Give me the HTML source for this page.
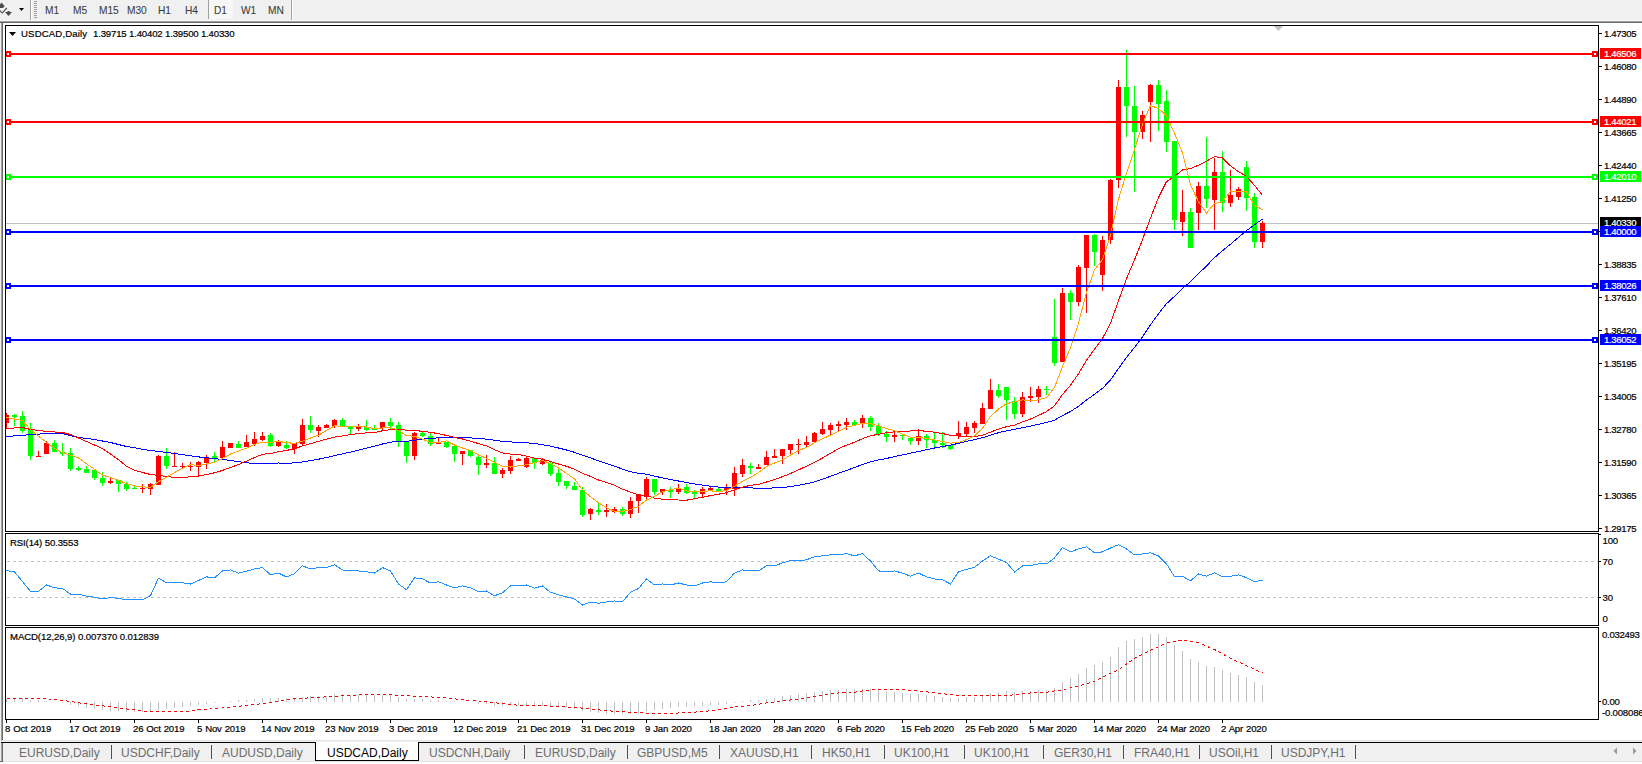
<!DOCTYPE html>
<html><head><meta charset="utf-8"><style>
html,body{margin:0;padding:0;background:#f0f0f0;overflow:hidden;}
body{width:1642px;height:764px;}
svg{display:block;font-family:"Liberation Sans", sans-serif;}
</style></head><body>
<svg width="1642" height="764" viewBox="0 0 1642 764">
<rect x="0" y="0" width="1642" height="764" fill="#f0f0f0"/>
<rect x="0" y="20" width="1642" height="1" fill="#f9f9f9"/>
<rect x="0" y="21" width="1642" height="1" fill="#a0a0a0"/>
<rect x="0" y="22" width="1642" height="1" fill="#696969"/>
<path d="M0,4.5 L1.5,2.5 L5,6.5 L3.5,6.5 L3.5,8 L0,8 Z" fill="#4a4a4a"/>
<path d="M0,10 L2.2,12.2 L6.5,7.5 L7.2,8.5 L2.2,13.8 L0,11.5 Z" fill="#4a4a4a"/>
<path d="M7.5,11 L9.5,11 L9.5,12 L12,12 L8.5,16 L5,12 L7.5,12 Z" fill="#4a4a4a"/>
<path d="M19,8 L24,8 L21.5,11 Z" fill="#000"/>
<rect x="30" y="0" width="1" height="20" fill="#a0a0a0"/><rect x="31" y="0" width="1" height="20" fill="#ffffff"/>
<rect x="34" y="1" width="3" height="1" fill="#a0a0a0"/>
<rect x="34" y="3" width="3" height="1" fill="#a0a0a0"/>
<rect x="34" y="5" width="3" height="1" fill="#a0a0a0"/>
<rect x="34" y="7" width="3" height="1" fill="#a0a0a0"/>
<rect x="34" y="9" width="3" height="1" fill="#a0a0a0"/>
<rect x="34" y="11" width="3" height="1" fill="#a0a0a0"/>
<rect x="34" y="13" width="3" height="1" fill="#a0a0a0"/>
<rect x="34" y="15" width="3" height="1" fill="#a0a0a0"/>
<rect x="34" y="17" width="3" height="1" fill="#a0a0a0"/>
<rect x="208" y="0" width="25" height="19" fill="#f7f7f7"/>
<rect x="208" y="0" width="1" height="19" fill="#a0a0a0"/>
<rect x="291" y="0" width="1" height="20" fill="#a0a0a0"/><rect x="292" y="0" width="1" height="20" fill="#ffffff"/>
<text x="45" y="13.6" font-size="10.2" fill="#3a3a3a" text-anchor="start" font-weight="normal" letter-spacing="-0.1" stroke="#3a3a3a" stroke-width="0.06" >M1</text>
<text x="73" y="13.6" font-size="10.2" fill="#3a3a3a" text-anchor="start" font-weight="normal" letter-spacing="-0.1" stroke="#3a3a3a" stroke-width="0.06" >M5</text>
<text x="99" y="13.6" font-size="10.2" fill="#3a3a3a" text-anchor="start" font-weight="normal" letter-spacing="-0.1" stroke="#3a3a3a" stroke-width="0.06" >M15</text>
<text x="127" y="13.6" font-size="10.2" fill="#3a3a3a" text-anchor="start" font-weight="normal" letter-spacing="-0.1" stroke="#3a3a3a" stroke-width="0.06" >M30</text>
<text x="158" y="13.6" font-size="10.2" fill="#3a3a3a" text-anchor="start" font-weight="normal" letter-spacing="-0.1" stroke="#3a3a3a" stroke-width="0.06" >H1</text>
<text x="185" y="13.6" font-size="10.2" fill="#3a3a3a" text-anchor="start" font-weight="normal" letter-spacing="-0.1" stroke="#3a3a3a" stroke-width="0.06" >H4</text>
<text x="214" y="13.6" font-size="10.2" fill="#3a3a3a" text-anchor="start" font-weight="normal" letter-spacing="-0.1" stroke="#3a3a3a" stroke-width="0.06" >D1</text>
<text x="241" y="13.6" font-size="10.2" fill="#3a3a3a" text-anchor="start" font-weight="normal" letter-spacing="-0.1" stroke="#3a3a3a" stroke-width="0.06" >W1</text>
<text x="268" y="13.6" font-size="10.2" fill="#3a3a3a" text-anchor="start" font-weight="normal" letter-spacing="-0.1" stroke="#3a3a3a" stroke-width="0.06" >MN</text>
<rect x="1" y="23" width="1" height="718" fill="#a0a0a0"/>
<rect x="2" y="23" width="1" height="717" fill="#696969"/>
<rect x="3" y="23" width="1639" height="717" fill="#ffffff"/>
<rect x="2" y="740" width="1640" height="1" fill="#e3e3e3"/>
<defs><clipPath id="cm"><rect x="6" y="26" width="1592" height="505"/></clipPath><clipPath id="cr"><rect x="6" y="534" width="1592" height="91"/></clipPath><clipPath id="cd"><rect x="6" y="628" width="1592" height="91"/></clipPath></defs>
<rect x="6" y="223" width="1592" height="1" fill="#c0c0c0"/>
<g clip-path="url(#cm)" shape-rendering="crispEdges">
<rect fill="#ff0000" x="6" y="413" width="1" height="15"/>
<rect fill="#ff0000" x="4" y="415" width="5" height="8"/>
<rect fill="#00ff00" x="14" y="414" width="1" height="12"/>
<rect fill="#00ff00" x="12" y="415" width="5" height="2"/>
<rect fill="#00ff00" x="22" y="411" width="1" height="22"/>
<rect fill="#00ff00" x="20" y="416" width="5" height="15"/>
<rect fill="#00ff00" x="30" y="423" width="1" height="37"/>
<rect fill="#00ff00" x="28" y="430" width="5" height="26"/>
<rect fill="#ff0000" x="38" y="451" width="1" height="5"/>
<rect fill="#ff0000" x="36" y="456" width="5" height="1"/>
<rect fill="#ff0000" x="46" y="441" width="1" height="13"/>
<rect fill="#ff0000" x="44" y="443" width="5" height="11"/>
<rect fill="#00ff00" x="54" y="440" width="1" height="12"/>
<rect fill="#00ff00" x="52" y="443" width="5" height="9"/>
<rect fill="#00ff00" x="62" y="443" width="1" height="13"/>
<rect fill="#00ff00" x="60" y="452" width="5" height="2"/>
<rect fill="#00ff00" x="70" y="448" width="1" height="23"/>
<rect fill="#00ff00" x="68" y="453" width="5" height="16"/>
<rect fill="#00ff00" x="78" y="466" width="1" height="5"/>
<rect fill="#00ff00" x="76" y="468" width="5" height="2"/>
<rect fill="#00ff00" x="86" y="466" width="1" height="7"/>
<rect fill="#00ff00" x="84" y="469" width="5" height="4"/>
<rect fill="#00ff00" x="94" y="469" width="1" height="11"/>
<rect fill="#00ff00" x="92" y="470" width="5" height="8"/>
<rect fill="#00ff00" x="102" y="472" width="1" height="14"/>
<rect fill="#00ff00" x="100" y="478" width="5" height="5"/>
<rect fill="#ff0000" x="110" y="477" width="1" height="7"/>
<rect fill="#ff0000" x="108" y="481" width="5" height="2"/>
<rect fill="#00ff00" x="118" y="480" width="1" height="12"/>
<rect fill="#00ff00" x="116" y="480" width="5" height="4"/>
<rect fill="#00ff00" x="126" y="482" width="1" height="9"/>
<rect fill="#00ff00" x="124" y="484" width="5" height="5"/>
<rect fill="#00ff00" x="134" y="486" width="1" height="3"/>
<rect fill="#00ff00" x="132" y="488" width="5" height="1"/>
<rect fill="#ff0000" x="142" y="484" width="1" height="9"/>
<rect fill="#ff0000" x="140" y="488" width="5" height="1"/>
<rect fill="#ff0000" x="150" y="483" width="1" height="12"/>
<rect fill="#ff0000" x="148" y="484" width="5" height="5"/>
<rect fill="#ff0000" x="158" y="455" width="1" height="30"/>
<rect fill="#ff0000" x="156" y="456" width="5" height="29"/>
<rect fill="#00ff00" x="166" y="448" width="1" height="21"/>
<rect fill="#00ff00" x="164" y="456" width="5" height="10"/>
<rect fill="#ff0000" x="174" y="452" width="1" height="15"/>
<rect fill="#ff0000" x="172" y="466" width="5" height="1"/>
<rect fill="#ff0000" x="182" y="463" width="1" height="6"/>
<rect fill="#ff0000" x="180" y="466" width="5" height="1"/>
<rect fill="#ff0000" x="190" y="462" width="1" height="9"/>
<rect fill="#ff0000" x="188" y="466" width="5" height="1"/>
<rect fill="#ff0000" x="198" y="461" width="1" height="15"/>
<rect fill="#ff0000" x="196" y="462" width="5" height="5"/>
<rect fill="#ff0000" x="206" y="455" width="1" height="14"/>
<rect fill="#ff0000" x="204" y="457" width="5" height="6"/>
<rect fill="#00ff00" x="214" y="452" width="1" height="10"/>
<rect fill="#00ff00" x="212" y="456" width="5" height="2"/>
<rect fill="#ff0000" x="222" y="441" width="1" height="17"/>
<rect fill="#ff0000" x="220" y="447" width="5" height="11"/>
<rect fill="#ff0000" x="230" y="443" width="1" height="5"/>
<rect fill="#ff0000" x="228" y="443" width="5" height="5"/>
<rect fill="#00ff00" x="238" y="441" width="1" height="7"/>
<rect fill="#00ff00" x="236" y="444" width="5" height="4"/>
<rect fill="#ff0000" x="246" y="435" width="1" height="12"/>
<rect fill="#ff0000" x="244" y="442" width="5" height="5"/>
<rect fill="#ff0000" x="254" y="432" width="1" height="14"/>
<rect fill="#ff0000" x="252" y="439" width="5" height="5"/>
<rect fill="#ff0000" x="262" y="432" width="1" height="9"/>
<rect fill="#ff0000" x="260" y="436" width="5" height="4"/>
<rect fill="#00ff00" x="270" y="433" width="1" height="14"/>
<rect fill="#00ff00" x="268" y="435" width="5" height="11"/>
<rect fill="#ff0000" x="278" y="440" width="1" height="7"/>
<rect fill="#ff0000" x="276" y="442" width="5" height="4"/>
<rect fill="#00ff00" x="286" y="441" width="1" height="8"/>
<rect fill="#00ff00" x="284" y="445" width="5" height="3"/>
<rect fill="#ff0000" x="294" y="443" width="1" height="11"/>
<rect fill="#ff0000" x="292" y="443" width="5" height="6"/>
<rect fill="#ff0000" x="302" y="419" width="1" height="26"/>
<rect fill="#ff0000" x="300" y="425" width="5" height="19"/>
<rect fill="#00ff00" x="310" y="416" width="1" height="17"/>
<rect fill="#00ff00" x="308" y="425" width="5" height="5"/>
<rect fill="#ff0000" x="318" y="425" width="1" height="12"/>
<rect fill="#ff0000" x="316" y="427" width="5" height="4"/>
<rect fill="#ff0000" x="326" y="424" width="1" height="4"/>
<rect fill="#ff0000" x="324" y="425" width="5" height="3"/>
<rect fill="#ff0000" x="334" y="419" width="1" height="9"/>
<rect fill="#ff0000" x="332" y="420" width="5" height="6"/>
<rect fill="#00ff00" x="342" y="418" width="1" height="9"/>
<rect fill="#00ff00" x="340" y="420" width="5" height="7"/>
<rect fill="#00ff00" x="350" y="426" width="1" height="8"/>
<rect fill="#00ff00" x="348" y="426" width="5" height="3"/>
<rect fill="#ff0000" x="358" y="424" width="1" height="7"/>
<rect fill="#ff0000" x="356" y="427" width="5" height="2"/>
<rect fill="#00ff00" x="366" y="420" width="1" height="11"/>
<rect fill="#00ff00" x="364" y="427" width="5" height="3"/>
<rect fill="#00ff00" x="374" y="425" width="1" height="5"/>
<rect fill="#00ff00" x="372" y="428" width="5" height="2"/>
<rect fill="#ff0000" x="382" y="422" width="1" height="8"/>
<rect fill="#ff0000" x="380" y="422" width="5" height="6"/>
<rect fill="#00ff00" x="390" y="418" width="1" height="11"/>
<rect fill="#00ff00" x="388" y="422" width="5" height="4"/>
<rect fill="#00ff00" x="398" y="422" width="1" height="25"/>
<rect fill="#00ff00" x="396" y="425" width="5" height="17"/>
<rect fill="#00ff00" x="406" y="442" width="1" height="21"/>
<rect fill="#00ff00" x="404" y="442" width="5" height="14"/>
<rect fill="#ff0000" x="414" y="432" width="1" height="28"/>
<rect fill="#ff0000" x="412" y="433" width="5" height="23"/>
<rect fill="#00ff00" x="422" y="432" width="1" height="5"/>
<rect fill="#00ff00" x="420" y="433" width="5" height="3"/>
<rect fill="#00ff00" x="430" y="433" width="1" height="13"/>
<rect fill="#00ff00" x="428" y="436" width="5" height="8"/>
<rect fill="#ff0000" x="438" y="438" width="1" height="6"/>
<rect fill="#ff0000" x="436" y="442" width="5" height="2"/>
<rect fill="#00ff00" x="446" y="442" width="1" height="6"/>
<rect fill="#00ff00" x="444" y="442" width="5" height="5"/>
<rect fill="#00ff00" x="454" y="446" width="1" height="16"/>
<rect fill="#00ff00" x="452" y="446" width="5" height="8"/>
<rect fill="#ff0000" x="462" y="451" width="1" height="14"/>
<rect fill="#ff0000" x="460" y="451" width="5" height="3"/>
<rect fill="#00ff00" x="470" y="450" width="1" height="7"/>
<rect fill="#00ff00" x="468" y="450" width="5" height="6"/>
<rect fill="#00ff00" x="478" y="455" width="1" height="20"/>
<rect fill="#00ff00" x="476" y="457" width="5" height="8"/>
<rect fill="#ff0000" x="486" y="455" width="1" height="13"/>
<rect fill="#ff0000" x="484" y="463" width="5" height="2"/>
<rect fill="#00ff00" x="494" y="457" width="1" height="17"/>
<rect fill="#00ff00" x="492" y="463" width="5" height="11"/>
<rect fill="#ff0000" x="502" y="468" width="1" height="10"/>
<rect fill="#ff0000" x="500" y="470" width="5" height="4"/>
<rect fill="#ff0000" x="510" y="456" width="1" height="18"/>
<rect fill="#ff0000" x="508" y="460" width="5" height="11"/>
<rect fill="#ff0000" x="518" y="458" width="1" height="3"/>
<rect fill="#ff0000" x="516" y="459" width="5" height="2"/>
<rect fill="#ff0000" x="526" y="457" width="1" height="11"/>
<rect fill="#ff0000" x="524" y="458" width="5" height="9"/>
<rect fill="#00ff00" x="534" y="458" width="1" height="11"/>
<rect fill="#00ff00" x="532" y="458" width="5" height="5"/>
<rect fill="#ff0000" x="542" y="458" width="1" height="7"/>
<rect fill="#ff0000" x="540" y="460" width="5" height="4"/>
<rect fill="#00ff00" x="550" y="461" width="1" height="15"/>
<rect fill="#00ff00" x="548" y="463" width="5" height="11"/>
<rect fill="#00ff00" x="558" y="469" width="1" height="17"/>
<rect fill="#00ff00" x="556" y="473" width="5" height="9"/>
<rect fill="#00ff00" x="566" y="481" width="1" height="8"/>
<rect fill="#00ff00" x="564" y="481" width="5" height="5"/>
<rect fill="#00ff00" x="574" y="482" width="1" height="8"/>
<rect fill="#00ff00" x="572" y="486" width="5" height="4"/>
<rect fill="#00ff00" x="582" y="487" width="1" height="30"/>
<rect fill="#00ff00" x="580" y="490" width="5" height="25"/>
<rect fill="#ff0000" x="590" y="508" width="1" height="12"/>
<rect fill="#ff0000" x="588" y="509" width="5" height="5"/>
<rect fill="#00ff00" x="598" y="503" width="1" height="12"/>
<rect fill="#00ff00" x="596" y="510" width="5" height="2"/>
<rect fill="#ff0000" x="606" y="504" width="1" height="13"/>
<rect fill="#ff0000" x="604" y="510" width="5" height="2"/>
<rect fill="#ff0000" x="614" y="507" width="1" height="6"/>
<rect fill="#ff0000" x="612" y="509" width="5" height="3"/>
<rect fill="#00ff00" x="622" y="507" width="1" height="9"/>
<rect fill="#00ff00" x="620" y="509" width="5" height="5"/>
<rect fill="#ff0000" x="630" y="497" width="1" height="21"/>
<rect fill="#ff0000" x="628" y="501" width="5" height="13"/>
<rect fill="#ff0000" x="638" y="494" width="1" height="19"/>
<rect fill="#ff0000" x="636" y="494" width="5" height="7"/>
<rect fill="#ff0000" x="646" y="477" width="1" height="22"/>
<rect fill="#ff0000" x="644" y="479" width="5" height="18"/>
<rect fill="#00ff00" x="654" y="479" width="1" height="16"/>
<rect fill="#00ff00" x="652" y="479" width="5" height="13"/>
<rect fill="#ff0000" x="662" y="489" width="1" height="6"/>
<rect fill="#ff0000" x="660" y="489" width="5" height="3"/>
<rect fill="#00ff00" x="670" y="487" width="1" height="11"/>
<rect fill="#00ff00" x="668" y="490" width="5" height="2"/>
<rect fill="#ff0000" x="678" y="484" width="1" height="10"/>
<rect fill="#ff0000" x="676" y="488" width="5" height="4"/>
<rect fill="#00ff00" x="686" y="484" width="1" height="10"/>
<rect fill="#00ff00" x="684" y="487" width="5" height="6"/>
<rect fill="#00ff00" x="694" y="490" width="1" height="8"/>
<rect fill="#00ff00" x="692" y="492" width="5" height="2"/>
<rect fill="#ff0000" x="702" y="487" width="1" height="10"/>
<rect fill="#ff0000" x="700" y="489" width="5" height="5"/>
<rect fill="#ff0000" x="710" y="486" width="1" height="4"/>
<rect fill="#ff0000" x="708" y="488" width="5" height="2"/>
<rect fill="#00ff00" x="718" y="487" width="1" height="4"/>
<rect fill="#00ff00" x="716" y="489" width="5" height="2"/>
<rect fill="#ff0000" x="726" y="484" width="1" height="11"/>
<rect fill="#ff0000" x="724" y="488" width="5" height="2"/>
<rect fill="#ff0000" x="734" y="467" width="1" height="29"/>
<rect fill="#ff0000" x="732" y="473" width="5" height="16"/>
<rect fill="#ff0000" x="742" y="459" width="1" height="18"/>
<rect fill="#ff0000" x="740" y="465" width="5" height="9"/>
<rect fill="#00ff00" x="750" y="463" width="1" height="11"/>
<rect fill="#00ff00" x="748" y="466" width="5" height="2"/>
<rect fill="#ff0000" x="758" y="464" width="1" height="5"/>
<rect fill="#ff0000" x="756" y="467" width="5" height="2"/>
<rect fill="#ff0000" x="766" y="451" width="1" height="14"/>
<rect fill="#ff0000" x="764" y="457" width="5" height="8"/>
<rect fill="#ff0000" x="774" y="449" width="1" height="9"/>
<rect fill="#ff0000" x="772" y="456" width="5" height="2"/>
<rect fill="#ff0000" x="782" y="449" width="1" height="15"/>
<rect fill="#ff0000" x="780" y="449" width="5" height="7"/>
<rect fill="#ff0000" x="790" y="444" width="1" height="10"/>
<rect fill="#ff0000" x="788" y="444" width="5" height="6"/>
<rect fill="#ff0000" x="798" y="439" width="1" height="15"/>
<rect fill="#ff0000" x="796" y="444" width="5" height="1"/>
<rect fill="#ff0000" x="806" y="436" width="1" height="11"/>
<rect fill="#ff0000" x="804" y="442" width="5" height="3"/>
<rect fill="#ff0000" x="814" y="432" width="1" height="10"/>
<rect fill="#ff0000" x="812" y="433" width="5" height="9"/>
<rect fill="#ff0000" x="822" y="422" width="1" height="13"/>
<rect fill="#ff0000" x="820" y="429" width="5" height="5"/>
<rect fill="#ff0000" x="830" y="423" width="1" height="12"/>
<rect fill="#ff0000" x="828" y="425" width="5" height="5"/>
<rect fill="#ff0000" x="838" y="421" width="1" height="11"/>
<rect fill="#ff0000" x="836" y="424" width="5" height="2"/>
<rect fill="#ff0000" x="846" y="418" width="1" height="12"/>
<rect fill="#ff0000" x="844" y="422" width="5" height="3"/>
<rect fill="#00ff00" x="854" y="420" width="1" height="5"/>
<rect fill="#00ff00" x="852" y="422" width="5" height="3"/>
<rect fill="#ff0000" x="862" y="415" width="1" height="13"/>
<rect fill="#ff0000" x="860" y="418" width="5" height="5"/>
<rect fill="#00ff00" x="870" y="416" width="1" height="15"/>
<rect fill="#00ff00" x="868" y="418" width="5" height="9"/>
<rect fill="#00ff00" x="878" y="423" width="1" height="13"/>
<rect fill="#00ff00" x="876" y="426" width="5" height="8"/>
<rect fill="#00ff00" x="886" y="431" width="1" height="11"/>
<rect fill="#00ff00" x="884" y="434" width="5" height="3"/>
<rect fill="#ff0000" x="894" y="431" width="1" height="11"/>
<rect fill="#ff0000" x="892" y="435" width="5" height="2"/>
<rect fill="#00ff00" x="902" y="435" width="1" height="5"/>
<rect fill="#00ff00" x="900" y="435" width="5" height="1"/>
<rect fill="#00ff00" x="910" y="438" width="1" height="7"/>
<rect fill="#00ff00" x="908" y="438" width="5" height="3"/>
<rect fill="#ff0000" x="918" y="429" width="1" height="16"/>
<rect fill="#ff0000" x="916" y="436" width="5" height="5"/>
<rect fill="#00ff00" x="926" y="434" width="1" height="14"/>
<rect fill="#00ff00" x="924" y="436" width="5" height="4"/>
<rect fill="#00ff00" x="934" y="433" width="1" height="14"/>
<rect fill="#00ff00" x="932" y="440" width="5" height="3"/>
<rect fill="#00ff00" x="942" y="432" width="1" height="16"/>
<rect fill="#00ff00" x="940" y="443" width="5" height="2"/>
<rect fill="#00ff00" x="950" y="445" width="1" height="5"/>
<rect fill="#00ff00" x="948" y="445" width="5" height="4"/>
<rect fill="#ff0000" x="958" y="421" width="1" height="18"/>
<rect fill="#ff0000" x="956" y="433" width="5" height="3"/>
<rect fill="#ff0000" x="966" y="422" width="1" height="14"/>
<rect fill="#ff0000" x="964" y="427" width="5" height="7"/>
<rect fill="#ff0000" x="974" y="421" width="1" height="12"/>
<rect fill="#ff0000" x="972" y="423" width="5" height="5"/>
<rect fill="#ff0000" x="982" y="403" width="1" height="21"/>
<rect fill="#ff0000" x="980" y="408" width="5" height="16"/>
<rect fill="#ff0000" x="990" y="379" width="1" height="30"/>
<rect fill="#ff0000" x="988" y="390" width="5" height="19"/>
<rect fill="#00ff00" x="998" y="384" width="1" height="14"/>
<rect fill="#00ff00" x="996" y="390" width="5" height="6"/>
<rect fill="#00ff00" x="1006" y="387" width="1" height="33"/>
<rect fill="#00ff00" x="1004" y="387" width="5" height="13"/>
<rect fill="#00ff00" x="1014" y="397" width="1" height="22"/>
<rect fill="#00ff00" x="1012" y="401" width="5" height="13"/>
<rect fill="#ff0000" x="1022" y="392" width="1" height="25"/>
<rect fill="#ff0000" x="1020" y="397" width="5" height="17"/>
<rect fill="#ff0000" x="1030" y="387" width="1" height="15"/>
<rect fill="#ff0000" x="1028" y="396" width="5" height="2"/>
<rect fill="#ff0000" x="1038" y="386" width="1" height="17"/>
<rect fill="#ff0000" x="1036" y="389" width="5" height="8"/>
<rect fill="#00ff00" x="1046" y="386" width="1" height="9"/>
<rect fill="#00ff00" x="1044" y="389" width="5" height="1"/>
<rect fill="#00ff00" x="1054" y="299" width="1" height="67"/>
<rect fill="#00ff00" x="1052" y="337" width="5" height="26"/>
<rect fill="#ff0000" x="1062" y="288" width="1" height="74"/>
<rect fill="#ff0000" x="1060" y="293" width="5" height="69"/>
<rect fill="#00ff00" x="1070" y="290" width="1" height="30"/>
<rect fill="#00ff00" x="1068" y="293" width="5" height="9"/>
<rect fill="#ff0000" x="1078" y="265" width="1" height="41"/>
<rect fill="#ff0000" x="1076" y="267" width="5" height="35"/>
<rect fill="#ff0000" x="1086" y="235" width="1" height="78"/>
<rect fill="#ff0000" x="1084" y="235" width="5" height="33"/>
<rect fill="#00ff00" x="1094" y="234" width="1" height="32"/>
<rect fill="#00ff00" x="1092" y="235" width="5" height="17"/>
<rect fill="#ff0000" x="1102" y="236" width="1" height="55"/>
<rect fill="#ff0000" x="1100" y="240" width="5" height="35"/>
<rect fill="#ff0000" x="1110" y="179" width="1" height="65"/>
<rect fill="#ff0000" x="1108" y="180" width="5" height="60"/>
<rect fill="#ff0000" x="1118" y="80" width="1" height="108"/>
<rect fill="#ff0000" x="1116" y="87" width="5" height="93"/>
<rect fill="#00ff00" x="1126" y="50" width="1" height="87"/>
<rect fill="#00ff00" x="1124" y="87" width="5" height="19"/>
<rect fill="#00ff00" x="1134" y="86" width="1" height="106"/>
<rect fill="#00ff00" x="1132" y="106" width="5" height="26"/>
<rect fill="#ff0000" x="1142" y="111" width="1" height="28"/>
<rect fill="#ff0000" x="1140" y="115" width="5" height="17"/>
<rect fill="#ff0000" x="1150" y="84" width="1" height="58"/>
<rect fill="#ff0000" x="1148" y="85" width="5" height="17"/>
<rect fill="#00ff00" x="1158" y="80" width="1" height="51"/>
<rect fill="#00ff00" x="1156" y="85" width="5" height="19"/>
<rect fill="#00ff00" x="1166" y="90" width="1" height="62"/>
<rect fill="#00ff00" x="1164" y="101" width="5" height="41"/>
<rect fill="#00ff00" x="1174" y="141" width="1" height="89"/>
<rect fill="#00ff00" x="1172" y="141" width="5" height="79"/>
<rect fill="#ff0000" x="1182" y="190" width="1" height="46"/>
<rect fill="#ff0000" x="1180" y="212" width="5" height="10"/>
<rect fill="#00ff00" x="1190" y="208" width="1" height="40"/>
<rect fill="#00ff00" x="1188" y="212" width="5" height="36"/>
<rect fill="#ff0000" x="1198" y="182" width="1" height="48"/>
<rect fill="#ff0000" x="1196" y="186" width="5" height="27"/>
<rect fill="#00ff00" x="1206" y="137" width="1" height="71"/>
<rect fill="#00ff00" x="1204" y="186" width="5" height="13"/>
<rect fill="#ff0000" x="1214" y="158" width="1" height="72"/>
<rect fill="#ff0000" x="1212" y="172" width="5" height="28"/>
<rect fill="#00ff00" x="1222" y="151" width="1" height="61"/>
<rect fill="#00ff00" x="1220" y="172" width="5" height="31"/>
<rect fill="#ff0000" x="1230" y="170" width="1" height="37"/>
<rect fill="#ff0000" x="1228" y="195" width="5" height="8"/>
<rect fill="#ff0000" x="1238" y="187" width="1" height="13"/>
<rect fill="#ff0000" x="1236" y="189" width="5" height="8"/>
<rect fill="#00ff00" x="1246" y="161" width="1" height="50"/>
<rect fill="#00ff00" x="1244" y="167" width="5" height="31"/>
<rect fill="#00ff00" x="1254" y="193" width="1" height="55"/>
<rect fill="#00ff00" x="1252" y="197" width="5" height="45"/>
<rect fill="#ff0000" x="1262" y="221" width="1" height="27"/>
<rect fill="#ff0000" x="1260" y="223" width="5" height="19"/>
</g>
<g clip-path="url(#cm)">
<polyline points="6.5,436.5 14.5,435.9 22.5,435.3 30.5,434.7 38.5,434.1 46.5,433.5 54.5,433.5 62.5,433.5 70.5,435.5 78.5,437.5 86.5,438.5 94.5,439.5 102.5,441.0 110.5,442.5 118.5,444.5 126.5,446.5 134.5,447.8 142.5,449.2 150.5,450.5 158.5,451.5 166.5,452.5 174.5,453.5 182.5,454.6 190.5,455.8 198.5,456.9 206.5,457.8 214.5,458.6 222.5,459.5 230.5,460.5 238.5,461.6 246.5,462.7 254.5,463.8 262.5,463.9 270.5,463.5 278.5,463.0 286.5,463.2 294.5,462.9 302.5,461.9 310.5,460.7 318.5,459.2 326.5,457.6 334.5,455.7 342.5,453.8 350.5,452.1 358.5,450.2 366.5,448.2 374.5,446.2 382.5,444.0 390.5,442.1 398.5,441.6 406.5,441.3 414.5,440.2 422.5,439.2 430.5,438.4 438.5,437.8 446.5,437.4 454.5,437.3 462.5,437.4 470.5,437.9 478.5,438.4 486.5,439.1 494.5,440.3 502.5,441.4 510.5,441.9 518.5,442.5 526.5,442.8 534.5,443.5 542.5,444.7 550.5,446.1 558.5,448.0 566.5,450.0 574.5,452.3 582.5,455.3 590.5,457.9 598.5,460.8 606.5,463.4 614.5,466.1 622.5,469.1 630.5,471.7 638.5,473.4 646.5,474.2 654.5,476.1 662.5,477.9 670.5,479.5 678.5,481.0 686.5,482.5 694.5,483.9 702.5,485.1 710.5,486.2 718.5,487.1 726.5,487.9 734.5,487.9 742.5,487.7 750.5,487.9 758.5,488.2 766.5,488.2 774.5,487.9 782.5,487.6 790.5,486.6 798.5,485.3 806.5,483.8 814.5,481.9 822.5,479.1 830.5,476.3 838.5,473.3 846.5,470.4 854.5,467.6 862.5,464.4 870.5,461.9 878.5,459.9 886.5,458.5 894.5,456.6 902.5,454.9 910.5,453.2 918.5,451.5 926.5,449.7 934.5,448.0 942.5,446.5 950.5,445.2 958.5,443.3 966.5,441.3 974.5,439.6 982.5,437.7 990.5,435.1 998.5,432.7 1006.5,430.8 1014.5,429.4 1022.5,427.7 1030.5,426.1 1038.5,424.3 1046.5,422.5 1054.5,420.2 1062.5,415.6 1070.5,411.5 1078.5,406.3 1086.5,400.0 1094.5,394.3 1102.5,388.3 1110.5,380.1 1118.5,368.5 1126.5,357.5 1134.5,347.4 1142.5,336.7 1150.5,324.8 1158.5,313.7 1166.5,303.7 1174.5,296.3 1182.5,288.5 1190.5,281.8 1198.5,273.6 1206.5,266.0 1214.5,257.6 1222.5,250.7 1230.5,244.2 1238.5,237.4 1246.5,230.6 1254.5,224.8 1262.5,219.0" fill="none" stroke="#0000ff" stroke-width="1" shape-rendering="crispEdges" />
<polyline points="6.5,428.5 14.5,428.0 22.5,427.5 30.5,429.5 38.5,430.5 46.5,431.5 54.5,432.0 62.5,432.5 70.5,434.5 78.5,438.0 86.5,441.5 94.5,445.0 102.5,448.5 110.5,454.1 118.5,459.7 126.5,466.2 134.5,470.3 142.5,472.5 150.5,474.5 158.5,475.4 166.5,476.5 174.5,477.4 182.5,477.2 190.5,476.9 198.5,476.1 206.5,474.6 214.5,472.8 222.5,470.4 230.5,467.5 238.5,464.5 246.5,461.1 254.5,457.6 262.5,454.2 270.5,453.5 278.5,451.7 286.5,450.4 294.5,448.8 302.5,445.9 310.5,443.6 318.5,441.4 326.5,439.1 334.5,437.1 342.5,436.0 350.5,434.6 358.5,433.6 366.5,432.9 374.5,432.5 382.5,430.8 390.5,429.6 398.5,429.2 406.5,430.2 414.5,430.7 422.5,431.2 430.5,432.4 438.5,433.6 446.5,435.5 454.5,437.4 462.5,439.0 470.5,441.1 478.5,443.6 486.5,445.9 494.5,449.7 502.5,452.9 510.5,454.1 518.5,454.4 526.5,456.1 534.5,458.1 542.5,459.3 550.5,461.5 558.5,464.0 566.5,466.3 574.5,469.1 582.5,473.3 590.5,476.4 598.5,480.0 606.5,482.5 614.5,485.3 622.5,489.1 630.5,492.1 638.5,494.7 646.5,495.8 654.5,498.1 662.5,499.2 670.5,499.9 678.5,500.0 686.5,500.2 694.5,498.7 702.5,497.3 710.5,495.6 718.5,494.2 726.5,492.7 734.5,489.8 742.5,487.2 750.5,485.3 758.5,484.4 766.5,482.0 774.5,479.6 782.5,476.6 790.5,473.5 798.5,469.9 806.5,466.2 814.5,462.2 822.5,458.0 830.5,453.3 838.5,448.7 846.5,445.1 854.5,442.3 862.5,438.7 870.5,435.8 878.5,434.2 886.5,432.8 894.5,431.8 902.5,431.3 910.5,431.0 918.5,430.7 926.5,431.2 934.5,432.2 942.5,433.6 950.5,435.3 958.5,436.1 966.5,436.3 974.5,436.6 982.5,435.3 990.5,432.1 998.5,429.2 1006.5,426.7 1014.5,425.1 1022.5,421.9 1030.5,419.0 1038.5,415.4 1046.5,411.6 1054.5,405.7 1062.5,394.6 1070.5,385.2 1078.5,373.8 1086.5,360.3 1094.5,349.2 1102.5,338.5 1110.5,323.1 1118.5,300.7 1126.5,278.7 1134.5,259.7 1142.5,239.7 1150.5,218.0 1158.5,197.5 1166.5,181.6 1174.5,176.4 1182.5,170.0 1190.5,168.6 1198.5,165.1 1206.5,161.3 1214.5,156.5 1222.5,158.0 1230.5,165.8 1238.5,171.7 1246.5,176.4 1254.5,185.4 1262.5,195.3" fill="none" stroke="#ff0000" stroke-width="1" shape-rendering="crispEdges" />
<polyline points="6.5,417.5 14.5,419.0 22.5,420.5 30.5,429.5 38.5,436.3 46.5,442.3 54.5,448.2 62.5,452.7 70.5,455.1 78.5,457.9 86.5,463.8 94.5,469.2 102.5,475.1 110.5,477.5 118.5,480.4 126.5,483.6 134.5,485.8 142.5,486.8 150.5,487.4 158.5,481.6 166.5,477.2 174.5,472.5 182.5,468.1 190.5,464.5 198.5,465.8 206.5,463.9 214.5,462.3 222.5,458.5 230.5,454.0 238.5,451.1 246.5,448.1 254.5,444.3 262.5,442.1 270.5,442.6 278.5,441.4 286.5,442.6 294.5,443.4 302.5,441.2 310.5,438.0 318.5,435.1 326.5,430.5 334.5,425.9 342.5,426.3 350.5,426.0 358.5,426.0 366.5,427.0 374.5,428.9 382.5,428.0 390.5,427.4 398.5,430.5 406.5,435.6 414.5,436.3 422.5,439.1 430.5,442.7 438.5,442.6 446.5,440.9 454.5,445.0 462.5,448.0 470.5,450.4 478.5,455.0 486.5,458.2 494.5,462.3 502.5,466.2 510.5,467.0 518.5,465.8 526.5,464.8 534.5,462.6 542.5,460.6 550.5,463.4 558.5,467.9 566.5,473.5 574.5,478.9 582.5,489.8 590.5,496.8 598.5,502.8 606.5,507.7 614.5,511.4 622.5,511.2 630.5,509.7 638.5,506.2 646.5,500.0 654.5,496.5 662.5,491.5 670.5,489.6 678.5,488.2 686.5,491.0 694.5,491.5 702.5,491.5 710.5,490.8 718.5,491.6 726.5,490.5 734.5,486.3 742.5,481.4 750.5,477.4 758.5,472.5 766.5,466.4 774.5,463.0 782.5,459.9 790.5,455.1 798.5,450.5 806.5,447.5 814.5,442.9 822.5,438.9 830.5,435.1 838.5,431.1 846.5,427.1 854.5,425.5 862.5,423.3 870.5,423.6 878.5,425.6 886.5,428.6 894.5,430.6 902.5,434.3 910.5,437.1 918.5,437.6 926.5,438.3 934.5,439.9 942.5,441.5 950.5,443.1 958.5,442.4 966.5,439.7 974.5,435.8 982.5,428.4 990.5,416.6 998.5,409.1 1006.5,403.7 1014.5,401.9 1022.5,399.8 1030.5,401.0 1038.5,399.7 1046.5,397.7 1054.5,387.4 1062.5,366.6 1070.5,347.7 1078.5,323.2 1086.5,292.1 1094.5,270.0 1102.5,259.4 1110.5,235.1 1118.5,199.2 1126.5,173.3 1134.5,149.4 1142.5,124.4 1150.5,105.4 1158.5,108.6 1166.5,115.7 1174.5,133.3 1182.5,152.7 1190.5,185.1 1198.5,201.7 1206.5,213.1 1214.5,203.5 1222.5,201.6 1230.5,191.2 1238.5,191.8 1246.5,191.7 1254.5,205.5 1262.5,209.6" fill="none" stroke="#ffa500" stroke-width="1" shape-rendering="crispEdges" />
</g>
<rect x="6" y="53" width="1592" height="2" fill="#ff0000"/>
<rect x="5" y="51" width="6" height="6" fill="#ff0000"/><rect x="7" y="53" width="2" height="2" fill="#fff"/>
<rect x="1592" y="51" width="6" height="6" fill="#ff0000"/><rect x="1594" y="53" width="2" height="2" fill="#fff"/>
<rect x="6" y="121" width="1592" height="2" fill="#ff0000"/>
<rect x="5" y="119" width="6" height="6" fill="#ff0000"/><rect x="7" y="121" width="2" height="2" fill="#fff"/>
<rect x="1592" y="119" width="6" height="6" fill="#ff0000"/><rect x="1594" y="121" width="2" height="2" fill="#fff"/>
<rect x="6" y="176" width="1592" height="2" fill="#00ff00"/>
<rect x="5" y="174" width="6" height="6" fill="#00ff00"/><rect x="7" y="176" width="2" height="2" fill="#fff"/>
<rect x="1592" y="174" width="6" height="6" fill="#00ff00"/><rect x="1594" y="176" width="2" height="2" fill="#fff"/>
<rect x="6" y="231" width="1592" height="2" fill="#0000ff"/>
<rect x="5" y="229" width="6" height="6" fill="#0000ff"/><rect x="7" y="231" width="2" height="2" fill="#fff"/>
<rect x="1592" y="229" width="6" height="6" fill="#0000ff"/><rect x="1594" y="231" width="2" height="2" fill="#fff"/>
<rect x="6" y="285" width="1592" height="2" fill="#0000ff"/>
<rect x="5" y="283" width="6" height="6" fill="#0000ff"/><rect x="7" y="285" width="2" height="2" fill="#fff"/>
<rect x="1592" y="283" width="6" height="6" fill="#0000ff"/><rect x="1594" y="285" width="2" height="2" fill="#fff"/>
<rect x="6" y="339" width="1592" height="2" fill="#0000ff"/>
<rect x="5" y="337" width="6" height="6" fill="#0000ff"/><rect x="7" y="339" width="2" height="2" fill="#fff"/>
<rect x="1592" y="337" width="6" height="6" fill="#0000ff"/><rect x="1594" y="339" width="2" height="2" fill="#fff"/>
<path d="M1274,26 L1283,26 L1278.5,31 Z" fill="#c0c0c0"/>
<rect x="5" y="25" width="1594" height="1" fill="#000"/><rect x="5" y="531" width="1594" height="1" fill="#000"/><rect x="5" y="25" width="1" height="507" fill="#000"/><rect x="1598" y="25" width="1" height="507" fill="#000"/>
<path d="M9,32 L16,32 L12.5,36 Z" fill="#000"/>
<text x="21" y="37" font-size="9.6" fill="#000" text-anchor="start" font-weight="normal" letter-spacing="0.15" stroke="#000" stroke-width="0.2" >USDCAD,Daily</text>
<text x="93" y="37" font-size="9.6" fill="#000" text-anchor="start" font-weight="normal" letter-spacing="-0.17" stroke="#000" stroke-width="0.2" >1.39715 1.40402 1.39500 1.40330</text>
<rect x="1599" y="33" width="3" height="1" fill="#000"/>
<text x="1604" y="36.6" font-size="9.6" fill="#000" text-anchor="start" font-weight="normal" letter-spacing="-0.35" stroke="#000" stroke-width="0.2" >1.47305</text>
<rect x="1599" y="66" width="3" height="1" fill="#000"/>
<text x="1604" y="69.6" font-size="9.6" fill="#000" text-anchor="start" font-weight="normal" letter-spacing="-0.35" stroke="#000" stroke-width="0.2" >1.46080</text>
<rect x="1599" y="99" width="3" height="1" fill="#000"/>
<text x="1604" y="102.6" font-size="9.6" fill="#000" text-anchor="start" font-weight="normal" letter-spacing="-0.35" stroke="#000" stroke-width="0.2" >1.44890</text>
<rect x="1599" y="132" width="3" height="1" fill="#000"/>
<text x="1604" y="135.6" font-size="9.6" fill="#000" text-anchor="start" font-weight="normal" letter-spacing="-0.35" stroke="#000" stroke-width="0.2" >1.43665</text>
<rect x="1599" y="165" width="3" height="1" fill="#000"/>
<text x="1604" y="168.6" font-size="9.6" fill="#000" text-anchor="start" font-weight="normal" letter-spacing="-0.35" stroke="#000" stroke-width="0.2" >1.42440</text>
<rect x="1599" y="198" width="3" height="1" fill="#000"/>
<text x="1604" y="201.6" font-size="9.6" fill="#000" text-anchor="start" font-weight="normal" letter-spacing="-0.35" stroke="#000" stroke-width="0.2" >1.41250</text>
<rect x="1599" y="231" width="3" height="1" fill="#000"/>
<rect x="1599" y="264" width="3" height="1" fill="#000"/>
<text x="1604" y="267.6" font-size="9.6" fill="#000" text-anchor="start" font-weight="normal" letter-spacing="-0.35" stroke="#000" stroke-width="0.2" >1.38835</text>
<rect x="1599" y="297" width="3" height="1" fill="#000"/>
<text x="1604" y="300.6" font-size="9.6" fill="#000" text-anchor="start" font-weight="normal" letter-spacing="-0.35" stroke="#000" stroke-width="0.2" >1.37610</text>
<rect x="1599" y="330" width="3" height="1" fill="#000"/>
<text x="1604" y="333.6" font-size="9.6" fill="#000" text-anchor="start" font-weight="normal" letter-spacing="-0.35" stroke="#000" stroke-width="0.2" >1.36420</text>
<rect x="1599" y="363" width="3" height="1" fill="#000"/>
<text x="1604" y="366.6" font-size="9.6" fill="#000" text-anchor="start" font-weight="normal" letter-spacing="-0.35" stroke="#000" stroke-width="0.2" >1.35195</text>
<rect x="1599" y="396" width="3" height="1" fill="#000"/>
<text x="1604" y="399.6" font-size="9.6" fill="#000" text-anchor="start" font-weight="normal" letter-spacing="-0.35" stroke="#000" stroke-width="0.2" >1.34005</text>
<rect x="1599" y="429" width="3" height="1" fill="#000"/>
<text x="1604" y="432.6" font-size="9.6" fill="#000" text-anchor="start" font-weight="normal" letter-spacing="-0.35" stroke="#000" stroke-width="0.2" >1.32780</text>
<rect x="1599" y="462" width="3" height="1" fill="#000"/>
<text x="1604" y="465.6" font-size="9.6" fill="#000" text-anchor="start" font-weight="normal" letter-spacing="-0.35" stroke="#000" stroke-width="0.2" >1.31590</text>
<rect x="1599" y="495" width="3" height="1" fill="#000"/>
<text x="1604" y="498.6" font-size="9.6" fill="#000" text-anchor="start" font-weight="normal" letter-spacing="-0.35" stroke="#000" stroke-width="0.2" >1.30365</text>
<rect x="1599" y="528" width="3" height="1" fill="#000"/>
<text x="1604" y="531.6" font-size="9.6" fill="#000" text-anchor="start" font-weight="normal" letter-spacing="-0.35" stroke="#000" stroke-width="0.2" >1.29175</text>
<rect x="1600" y="217" width="41" height="11" fill="#000000"/>
<text x="1604" y="226.4" font-size="9.6" fill="#fff" text-anchor="start" font-weight="normal" letter-spacing="-0.35" stroke="#fff" stroke-width="0.2" >1.40330</text>
<rect x="1600" y="48" width="41" height="11" fill="#ff0000"/>
<text x="1604" y="57.4" font-size="9.6" fill="#fff" text-anchor="start" font-weight="normal" letter-spacing="-0.35" stroke="#fff" stroke-width="0.2" >1.46506</text>
<rect x="1600" y="116" width="41" height="11" fill="#ff0000"/>
<text x="1604" y="125.4" font-size="9.6" fill="#fff" text-anchor="start" font-weight="normal" letter-spacing="-0.35" stroke="#fff" stroke-width="0.2" >1.44021</text>
<rect x="1600" y="171" width="41" height="11" fill="#00ff00"/>
<text x="1604" y="180.4" font-size="9.6" fill="#fff" text-anchor="start" font-weight="normal" letter-spacing="-0.35" stroke="#fff" stroke-width="0.2" >1.42010</text>
<rect x="1600" y="226" width="41" height="11" fill="#0000ff"/>
<text x="1604" y="235.4" font-size="9.6" fill="#fff" text-anchor="start" font-weight="normal" letter-spacing="-0.35" stroke="#fff" stroke-width="0.2" >1.40000</text>
<rect x="1600" y="280" width="41" height="11" fill="#0000ff"/>
<text x="1604" y="289.4" font-size="9.6" fill="#fff" text-anchor="start" font-weight="normal" letter-spacing="-0.35" stroke="#fff" stroke-width="0.2" >1.38026</text>
<rect x="1600" y="334" width="41" height="11" fill="#0000ff"/>
<text x="1604" y="343.4" font-size="9.6" fill="#fff" text-anchor="start" font-weight="normal" letter-spacing="-0.35" stroke="#fff" stroke-width="0.2" >1.36052</text>
<rect x="5" y="533" width="1594" height="1" fill="#000"/><rect x="5" y="625" width="1594" height="1" fill="#000"/><rect x="5" y="533" width="1" height="93" fill="#000"/><rect x="1598" y="533" width="1" height="93" fill="#000"/>
<text x="10" y="546" font-size="9.6" fill="#000" text-anchor="start" font-weight="normal" letter-spacing="-0.13" stroke="#000" stroke-width="0.2" >RSI(14) 50.3553</text>
<line x1="7" y1="561.5" x2="1598" y2="561.5" stroke="#c0c0c0" stroke-width="1" stroke-dasharray="3,3" shape-rendering="crispEdges"/>
<line x1="7" y1="597.5" x2="1598" y2="597.5" stroke="#c0c0c0" stroke-width="1" stroke-dasharray="3,3" shape-rendering="crispEdges"/>
<g clip-path="url(#cr)"><polyline points="6.5,570.5 14.5,571.9 22.5,581.7 30.5,591.5 38.5,591.5 46.5,584.9 54.5,587.8 62.5,588.5 70.5,594.0 78.5,594.0 86.5,596.1 94.5,597.3 102.5,598.9 110.5,597.5 118.5,598.5 126.5,599.8 134.5,599.8 142.5,599.8 150.5,595.5 158.5,578.1 166.5,582.8 174.5,582.8 182.5,582.8 190.5,584.0 198.5,580.5 206.5,576.9 214.5,577.8 222.5,570.9 230.5,569.9 238.5,573.1 246.5,571.2 254.5,568.9 262.5,567.6 270.5,574.8 278.5,573.1 286.5,576.9 294.5,573.7 302.5,565.8 310.5,568.9 318.5,567.6 326.5,567.6 334.5,564.8 342.5,569.9 350.5,570.9 358.5,570.9 366.5,571.8 374.5,573.1 382.5,567.6 390.5,570.9 398.5,584.0 406.5,589.7 414.5,577.8 422.5,578.9 430.5,583.0 438.5,581.7 446.5,585.0 454.5,587.8 462.5,585.9 470.5,587.8 478.5,591.9 486.5,591.0 494.5,595.7 502.5,592.9 510.5,585.9 518.5,585.9 526.5,585.0 534.5,588.1 542.5,585.9 550.5,592.3 558.5,594.9 566.5,596.8 574.5,599.1 582.5,605.1 590.5,602.1 598.5,603.2 606.5,601.9 614.5,600.9 622.5,601.9 630.5,592.3 638.5,588.5 646.5,578.9 654.5,585.0 662.5,584.0 670.5,585.0 678.5,583.0 686.5,585.0 694.5,585.9 702.5,583.0 710.5,581.7 718.5,583.0 726.5,581.7 734.5,573.1 742.5,569.9 750.5,570.9 758.5,570.9 766.5,565.8 774.5,565.8 782.5,562.9 790.5,560.7 798.5,561.0 806.5,559.7 814.5,556.9 822.5,555.8 830.5,554.8 838.5,554.8 846.5,553.7 854.5,555.8 862.5,553.7 870.5,561.0 878.5,570.9 886.5,571.8 894.5,570.9 902.5,573.1 910.5,576.1 918.5,573.1 926.5,576.9 934.5,578.9 942.5,579.9 950.5,584.0 958.5,571.8 966.5,569.3 974.5,567.4 982.5,561.0 990.5,555.8 998.5,559.2 1006.5,562.4 1014.5,571.9 1022.5,565.9 1030.5,565.5 1038.5,563.9 1046.5,563.9 1054.5,557.9 1062.5,547.6 1070.5,551.9 1078.5,548.9 1086.5,546.8 1094.5,552.8 1102.5,551.9 1110.5,548.0 1118.5,544.7 1126.5,548.9 1134.5,554.9 1142.5,554.0 1150.5,552.8 1158.5,556.0 1166.5,563.9 1174.5,576.7 1182.5,576.2 1190.5,580.9 1198.5,573.9 1206.5,576.2 1214.5,572.8 1222.5,576.7 1230.5,576.2 1238.5,574.9 1246.5,577.7 1254.5,581.8 1262.5,580.0" fill="none" stroke="#1e90ff" stroke-width="1" shape-rendering="crispEdges" /></g>
<text x="1602.5" y="544" font-size="9.6" fill="#000" text-anchor="start" font-weight="normal" letter-spacing="-0.2" stroke="#000" stroke-width="0.2" >100</text>
<text x="1602.5" y="565" font-size="9.6" fill="#000" text-anchor="start" font-weight="normal" letter-spacing="-0.2" stroke="#000" stroke-width="0.2" >70</text>
<text x="1602.5" y="601" font-size="9.6" fill="#000" text-anchor="start" font-weight="normal" letter-spacing="-0.2" stroke="#000" stroke-width="0.2" >30</text>
<text x="1602.5" y="622" font-size="9.6" fill="#000" text-anchor="start" font-weight="normal" letter-spacing="-0.2" stroke="#000" stroke-width="0.2" >0</text>
<rect x="1599" y="534" width="2" height="1" fill="#000"/>
<rect x="1599" y="561" width="2" height="1" fill="#000"/>
<rect x="1599" y="597" width="2" height="1" fill="#000"/>
<rect x="5" y="627" width="1594" height="1" fill="#000"/><rect x="5" y="719" width="1594" height="1" fill="#000"/><rect x="5" y="627" width="1" height="93" fill="#000"/><rect x="1598" y="627" width="1" height="93" fill="#000"/>
<text x="10" y="640" font-size="9.6" fill="#000" text-anchor="start" font-weight="normal" letter-spacing="-0.1" stroke="#000" stroke-width="0.2" >MACD(12,26,9) 0.007370 0.012839</text>
<g clip-path="url(#cd)"><rect x="6" y="699" width="1" height="3" fill="#c0c0c0"/><rect x="14" y="698" width="1" height="4" fill="#c0c0c0"/><rect x="22" y="698" width="1" height="4" fill="#c0c0c0"/><rect x="30" y="700" width="1" height="2" fill="#c0c0c0"/><rect x="38" y="700" width="1" height="2" fill="#c0c0c0"/><rect x="46" y="701" width="1" height="1" fill="#c0c0c0"/><rect x="62" y="702" width="1" height="1" fill="#c0c0c0"/><rect x="70" y="702" width="1" height="3" fill="#c0c0c0"/><rect x="78" y="702" width="1" height="4" fill="#c0c0c0"/><rect x="86" y="702" width="1" height="6" fill="#c0c0c0"/><rect x="94" y="702" width="1" height="7" fill="#c0c0c0"/><rect x="102" y="702" width="1" height="8" fill="#c0c0c0"/><rect x="110" y="702" width="1" height="9" fill="#c0c0c0"/><rect x="118" y="702" width="1" height="9" fill="#c0c0c0"/><rect x="126" y="702" width="1" height="10" fill="#c0c0c0"/><rect x="134" y="702" width="1" height="10" fill="#c0c0c0"/><rect x="142" y="702" width="1" height="10" fill="#c0c0c0"/><rect x="150" y="702" width="1" height="9" fill="#c0c0c0"/><rect x="158" y="702" width="1" height="8" fill="#c0c0c0"/><rect x="166" y="702" width="1" height="7" fill="#c0c0c0"/><rect x="174" y="702" width="1" height="6" fill="#c0c0c0"/><rect x="182" y="702" width="1" height="5" fill="#c0c0c0"/><rect x="190" y="702" width="1" height="4" fill="#c0c0c0"/><rect x="198" y="702" width="1" height="3" fill="#c0c0c0"/><rect x="206" y="702" width="1" height="2" fill="#c0c0c0"/><rect x="214" y="702" width="1" height="1" fill="#c0c0c0"/><rect x="230" y="701" width="1" height="1" fill="#c0c0c0"/><rect x="238" y="700" width="1" height="2" fill="#c0c0c0"/><rect x="246" y="700" width="1" height="2" fill="#c0c0c0"/><rect x="254" y="699" width="1" height="3" fill="#c0c0c0"/><rect x="262" y="698" width="1" height="4" fill="#c0c0c0"/><rect x="270" y="698" width="1" height="4" fill="#c0c0c0"/><rect x="278" y="698" width="1" height="4" fill="#c0c0c0"/><rect x="286" y="698" width="1" height="4" fill="#c0c0c0"/><rect x="294" y="698" width="1" height="4" fill="#c0c0c0"/><rect x="302" y="697" width="1" height="5" fill="#c0c0c0"/><rect x="310" y="696" width="1" height="6" fill="#c0c0c0"/><rect x="318" y="696" width="1" height="6" fill="#c0c0c0"/><rect x="326" y="696" width="1" height="6" fill="#c0c0c0"/><rect x="334" y="694" width="1" height="8" fill="#c0c0c0"/><rect x="342" y="694" width="1" height="8" fill="#c0c0c0"/><rect x="350" y="695" width="1" height="7" fill="#c0c0c0"/><rect x="358" y="695" width="1" height="7" fill="#c0c0c0"/><rect x="366" y="695" width="1" height="7" fill="#c0c0c0"/><rect x="374" y="695" width="1" height="7" fill="#c0c0c0"/><rect x="382" y="695" width="1" height="7" fill="#c0c0c0"/><rect x="390" y="695" width="1" height="7" fill="#c0c0c0"/><rect x="398" y="697" width="1" height="5" fill="#c0c0c0"/><rect x="406" y="699" width="1" height="3" fill="#c0c0c0"/><rect x="414" y="699" width="1" height="3" fill="#c0c0c0"/><rect x="422" y="699" width="1" height="3" fill="#c0c0c0"/><rect x="430" y="700" width="1" height="2" fill="#c0c0c0"/><rect x="438" y="700" width="1" height="2" fill="#c0c0c0"/><rect x="446" y="701" width="1" height="1" fill="#c0c0c0"/><rect x="454" y="701" width="1" height="1" fill="#c0c0c0"/><rect x="478" y="702" width="1" height="2" fill="#c0c0c0"/><rect x="486" y="702" width="1" height="2" fill="#c0c0c0"/><rect x="494" y="702" width="1" height="4" fill="#c0c0c0"/><rect x="502" y="702" width="1" height="4" fill="#c0c0c0"/><rect x="510" y="702" width="1" height="3" fill="#c0c0c0"/><rect x="518" y="702" width="1" height="3" fill="#c0c0c0"/><rect x="526" y="702" width="1" height="4" fill="#c0c0c0"/><rect x="534" y="702" width="1" height="4" fill="#c0c0c0"/><rect x="542" y="702" width="1" height="4" fill="#c0c0c0"/><rect x="550" y="702" width="1" height="4" fill="#c0c0c0"/><rect x="558" y="702" width="1" height="4" fill="#c0c0c0"/><rect x="566" y="702" width="1" height="5" fill="#c0c0c0"/><rect x="574" y="702" width="1" height="7" fill="#c0c0c0"/><rect x="582" y="702" width="1" height="9" fill="#c0c0c0"/><rect x="590" y="702" width="1" height="10" fill="#c0c0c0"/><rect x="598" y="702" width="1" height="11" fill="#c0c0c0"/><rect x="606" y="702" width="1" height="12" fill="#c0c0c0"/><rect x="614" y="702" width="1" height="12" fill="#c0c0c0"/><rect x="622" y="702" width="1" height="12" fill="#c0c0c0"/><rect x="630" y="702" width="1" height="12" fill="#c0c0c0"/><rect x="638" y="702" width="1" height="12" fill="#c0c0c0"/><rect x="646" y="702" width="1" height="9" fill="#c0c0c0"/><rect x="654" y="702" width="1" height="8" fill="#c0c0c0"/><rect x="662" y="702" width="1" height="7" fill="#c0c0c0"/><rect x="670" y="702" width="1" height="6" fill="#c0c0c0"/><rect x="678" y="702" width="1" height="5" fill="#c0c0c0"/><rect x="686" y="702" width="1" height="5" fill="#c0c0c0"/><rect x="694" y="702" width="1" height="4" fill="#c0c0c0"/><rect x="702" y="702" width="1" height="4" fill="#c0c0c0"/><rect x="710" y="702" width="1" height="3" fill="#c0c0c0"/><rect x="718" y="702" width="1" height="3" fill="#c0c0c0"/><rect x="726" y="702" width="1" height="2" fill="#c0c0c0"/><rect x="734" y="702" width="1" height="1" fill="#c0c0c0"/><rect x="742" y="701" width="1" height="1" fill="#c0c0c0"/><rect x="750" y="700" width="1" height="2" fill="#c0c0c0"/><rect x="758" y="700" width="1" height="2" fill="#c0c0c0"/><rect x="766" y="699" width="1" height="3" fill="#c0c0c0"/><rect x="774" y="698" width="1" height="4" fill="#c0c0c0"/><rect x="782" y="696" width="1" height="6" fill="#c0c0c0"/><rect x="790" y="695" width="1" height="7" fill="#c0c0c0"/><rect x="798" y="694" width="1" height="8" fill="#c0c0c0"/><rect x="806" y="693" width="1" height="9" fill="#c0c0c0"/><rect x="814" y="692" width="1" height="10" fill="#c0c0c0"/><rect x="822" y="691" width="1" height="11" fill="#c0c0c0"/><rect x="830" y="690" width="1" height="12" fill="#c0c0c0"/><rect x="838" y="690" width="1" height="12" fill="#c0c0c0"/><rect x="846" y="689" width="1" height="13" fill="#c0c0c0"/><rect x="854" y="689" width="1" height="13" fill="#c0c0c0"/><rect x="862" y="689" width="1" height="13" fill="#c0c0c0"/><rect x="870" y="689" width="1" height="13" fill="#c0c0c0"/><rect x="878" y="690" width="1" height="12" fill="#c0c0c0"/><rect x="886" y="691" width="1" height="11" fill="#c0c0c0"/><rect x="894" y="692" width="1" height="10" fill="#c0c0c0"/><rect x="902" y="693" width="1" height="9" fill="#c0c0c0"/><rect x="910" y="694" width="1" height="8" fill="#c0c0c0"/><rect x="918" y="694" width="1" height="8" fill="#c0c0c0"/><rect x="926" y="695" width="1" height="7" fill="#c0c0c0"/><rect x="934" y="696" width="1" height="6" fill="#c0c0c0"/><rect x="942" y="697" width="1" height="5" fill="#c0c0c0"/><rect x="950" y="698" width="1" height="4" fill="#c0c0c0"/><rect x="958" y="698" width="1" height="4" fill="#c0c0c0"/><rect x="966" y="697" width="1" height="5" fill="#c0c0c0"/><rect x="974" y="697" width="1" height="5" fill="#c0c0c0"/><rect x="982" y="695" width="1" height="7" fill="#c0c0c0"/><rect x="990" y="693" width="1" height="9" fill="#c0c0c0"/><rect x="998" y="692" width="1" height="10" fill="#c0c0c0"/><rect x="1006" y="691" width="1" height="11" fill="#c0c0c0"/><rect x="1014" y="692" width="1" height="10" fill="#c0c0c0"/><rect x="1022" y="691" width="1" height="11" fill="#c0c0c0"/><rect x="1030" y="691" width="1" height="11" fill="#c0c0c0"/><rect x="1038" y="690" width="1" height="12" fill="#c0c0c0"/><rect x="1046" y="690" width="1" height="12" fill="#c0c0c0"/><rect x="1054" y="688" width="1" height="14" fill="#c0c0c0"/><rect x="1062" y="682" width="1" height="20" fill="#c0c0c0"/><rect x="1070" y="678" width="1" height="24" fill="#c0c0c0"/><rect x="1078" y="674" width="1" height="28" fill="#c0c0c0"/><rect x="1086" y="668" width="1" height="34" fill="#c0c0c0"/><rect x="1094" y="665" width="1" height="37" fill="#c0c0c0"/><rect x="1102" y="662" width="1" height="40" fill="#c0c0c0"/><rect x="1110" y="657" width="1" height="45" fill="#c0c0c0"/><rect x="1118" y="647" width="1" height="55" fill="#c0c0c0"/><rect x="1126" y="641" width="1" height="61" fill="#c0c0c0"/><rect x="1134" y="639" width="1" height="63" fill="#c0c0c0"/><rect x="1142" y="637" width="1" height="65" fill="#c0c0c0"/><rect x="1150" y="634" width="1" height="68" fill="#c0c0c0"/><rect x="1158" y="634" width="1" height="68" fill="#c0c0c0"/><rect x="1166" y="637" width="1" height="65" fill="#c0c0c0"/><rect x="1174" y="645" width="1" height="57" fill="#c0c0c0"/><rect x="1182" y="651" width="1" height="51" fill="#c0c0c0"/><rect x="1190" y="659" width="1" height="43" fill="#c0c0c0"/><rect x="1198" y="662" width="1" height="40" fill="#c0c0c0"/><rect x="1206" y="666" width="1" height="36" fill="#c0c0c0"/><rect x="1214" y="667" width="1" height="35" fill="#c0c0c0"/><rect x="1222" y="670" width="1" height="32" fill="#c0c0c0"/><rect x="1230" y="673" width="1" height="29" fill="#c0c0c0"/><rect x="1238" y="675" width="1" height="27" fill="#c0c0c0"/><rect x="1246" y="677" width="1" height="25" fill="#c0c0c0"/><rect x="1254" y="682" width="1" height="20" fill="#c0c0c0"/><rect x="1262" y="685" width="1" height="17" fill="#c0c0c0"/></g>
<g clip-path="url(#cd)"><polyline points="6.5,698.8 14.5,698.8 22.5,698.8 30.5,698.8 38.5,698.8 46.5,698.8 54.5,699.5 62.5,700.3 70.5,701.5 78.5,702.7 86.5,704.0 94.5,704.8 102.5,705.8 110.5,706.9 118.5,708.0 126.5,709.0 134.5,710.0 142.5,711.0 150.5,711.6 158.5,711.7 166.5,711.8 174.5,711.9 182.5,711.9 190.5,711.0 198.5,709.7 206.5,709.2 214.5,708.8 222.5,708.0 230.5,707.1 238.5,706.3 246.5,705.5 254.5,704.5 262.5,703.6 270.5,702.4 278.5,701.2 286.5,700.0 294.5,698.8 302.5,698.3 310.5,697.8 318.5,697.3 326.5,696.9 334.5,696.3 342.5,695.7 350.5,695.3 358.5,694.9 366.5,694.9 374.5,694.9 382.5,694.9 390.5,694.9 398.5,695.3 406.5,695.7 414.5,696.1 422.5,696.5 430.5,696.9 438.5,697.4 446.5,697.8 454.5,698.8 462.5,699.7 470.5,700.4 478.5,701.0 486.5,701.9 494.5,702.7 502.5,703.7 510.5,704.6 518.5,705.2 526.5,705.8 534.5,705.8 542.5,705.8 550.5,706.2 558.5,706.7 566.5,707.1 574.5,707.5 582.5,708.1 590.5,708.8 598.5,709.8 606.5,710.7 614.5,711.3 622.5,711.8 630.5,712.4 638.5,712.8 646.5,713.2 654.5,713.6 662.5,713.4 670.5,713.2 678.5,713.0 686.5,712.8 694.5,712.1 702.5,711.5 710.5,710.8 718.5,710.0 726.5,708.4 734.5,706.7 742.5,706.1 750.5,705.5 758.5,704.2 766.5,703.0 774.5,701.9 782.5,701.0 790.5,700.0 798.5,699.0 806.5,697.9 814.5,696.4 822.5,694.9 830.5,694.0 838.5,693.0 846.5,692.6 854.5,692.2 862.5,691.0 870.5,689.7 878.5,689.7 886.5,689.7 894.5,689.7 902.5,689.7 910.5,690.4 918.5,691.0 926.5,691.9 934.5,692.7 942.5,693.7 950.5,694.6 958.5,695.2 966.5,695.8 974.5,695.8 982.5,695.8 990.5,695.8 998.5,695.8 1006.5,695.3 1014.5,694.9 1022.5,694.0 1030.5,693.0 1038.5,692.6 1046.5,692.2 1054.5,691.0 1062.5,689.7 1070.5,687.9 1078.5,686.1 1086.5,683.7 1094.5,681.2 1102.5,677.2 1110.5,673.2 1118.5,669.9 1126.5,664.1 1134.5,658.3 1142.5,654.3 1150.5,650.4 1158.5,646.8 1166.5,643.1 1174.5,641.6 1182.5,640.1 1190.5,641.5 1198.5,642.9 1206.5,646.2 1214.5,649.5 1222.5,653.9 1230.5,658.3 1238.5,662.0 1246.5,665.6 1254.5,669.3 1262.5,673.0" fill="none" stroke="#ff0000" stroke-width="1" shape-rendering="crispEdges" stroke-dasharray="3,3"/></g>
<text x="1602" y="638" font-size="9.6" fill="#000" text-anchor="start" font-weight="normal" letter-spacing="-0.3" stroke="#000" stroke-width="0.2" >0.032493</text>
<text x="1602" y="705" font-size="9.6" fill="#000" text-anchor="start" font-weight="normal" letter-spacing="-0.3" stroke="#000" stroke-width="0.2" >0.00</text>
<text x="1602" y="716" font-size="9.6" fill="#000" text-anchor="start" font-weight="normal" letter-spacing="-0.2" stroke="#000" stroke-width="0.2" >-0.008086</text>
<rect x="1599" y="701" width="2" height="1" fill="#000"/>
<rect x="6" y="720" width="1" height="3" fill="#000"/>
<text x="5" y="732" font-size="9.6" fill="#000" text-anchor="start" font-weight="normal" letter-spacing="-0.2" stroke="#000" stroke-width="0.2" word-spacing="0.6">8 Oct 2019</text>
<rect x="70" y="720" width="1" height="3" fill="#000"/>
<text x="69" y="732" font-size="9.6" fill="#000" text-anchor="start" font-weight="normal" letter-spacing="-0.2" stroke="#000" stroke-width="0.2" word-spacing="0.6">17 Oct 2019</text>
<rect x="134" y="720" width="1" height="3" fill="#000"/>
<text x="133" y="732" font-size="9.6" fill="#000" text-anchor="start" font-weight="normal" letter-spacing="-0.2" stroke="#000" stroke-width="0.2" word-spacing="0.6">26 Oct 2019</text>
<rect x="198" y="720" width="1" height="3" fill="#000"/>
<text x="197" y="732" font-size="9.6" fill="#000" text-anchor="start" font-weight="normal" letter-spacing="-0.2" stroke="#000" stroke-width="0.2" word-spacing="0.6">5 Nov 2019</text>
<rect x="262" y="720" width="1" height="3" fill="#000"/>
<text x="261" y="732" font-size="9.6" fill="#000" text-anchor="start" font-weight="normal" letter-spacing="-0.2" stroke="#000" stroke-width="0.2" word-spacing="0.6">14 Nov 2019</text>
<rect x="326" y="720" width="1" height="3" fill="#000"/>
<text x="325" y="732" font-size="9.6" fill="#000" text-anchor="start" font-weight="normal" letter-spacing="-0.2" stroke="#000" stroke-width="0.2" word-spacing="0.6">23 Nov 2019</text>
<rect x="390" y="720" width="1" height="3" fill="#000"/>
<text x="389" y="732" font-size="9.6" fill="#000" text-anchor="start" font-weight="normal" letter-spacing="-0.2" stroke="#000" stroke-width="0.2" word-spacing="0.6">3 Dec 2019</text>
<rect x="454" y="720" width="1" height="3" fill="#000"/>
<text x="453" y="732" font-size="9.6" fill="#000" text-anchor="start" font-weight="normal" letter-spacing="-0.2" stroke="#000" stroke-width="0.2" word-spacing="0.6">12 Dec 2019</text>
<rect x="518" y="720" width="1" height="3" fill="#000"/>
<text x="517" y="732" font-size="9.6" fill="#000" text-anchor="start" font-weight="normal" letter-spacing="-0.2" stroke="#000" stroke-width="0.2" word-spacing="0.6">21 Dec 2019</text>
<rect x="582" y="720" width="1" height="3" fill="#000"/>
<text x="581" y="732" font-size="9.6" fill="#000" text-anchor="start" font-weight="normal" letter-spacing="-0.2" stroke="#000" stroke-width="0.2" word-spacing="0.6">31 Dec 2019</text>
<rect x="646" y="720" width="1" height="3" fill="#000"/>
<text x="645" y="732" font-size="9.6" fill="#000" text-anchor="start" font-weight="normal" letter-spacing="-0.2" stroke="#000" stroke-width="0.2" word-spacing="0.6">9 Jan 2020</text>
<rect x="710" y="720" width="1" height="3" fill="#000"/>
<text x="709" y="732" font-size="9.6" fill="#000" text-anchor="start" font-weight="normal" letter-spacing="-0.2" stroke="#000" stroke-width="0.2" word-spacing="0.6">18 Jan 2020</text>
<rect x="774" y="720" width="1" height="3" fill="#000"/>
<text x="773" y="732" font-size="9.6" fill="#000" text-anchor="start" font-weight="normal" letter-spacing="-0.2" stroke="#000" stroke-width="0.2" word-spacing="0.6">28 Jan 2020</text>
<rect x="838" y="720" width="1" height="3" fill="#000"/>
<text x="837" y="732" font-size="9.6" fill="#000" text-anchor="start" font-weight="normal" letter-spacing="-0.2" stroke="#000" stroke-width="0.2" word-spacing="0.6">6 Feb 2020</text>
<rect x="902" y="720" width="1" height="3" fill="#000"/>
<text x="901" y="732" font-size="9.6" fill="#000" text-anchor="start" font-weight="normal" letter-spacing="-0.2" stroke="#000" stroke-width="0.2" word-spacing="0.6">15 Feb 2020</text>
<rect x="966" y="720" width="1" height="3" fill="#000"/>
<text x="965" y="732" font-size="9.6" fill="#000" text-anchor="start" font-weight="normal" letter-spacing="-0.2" stroke="#000" stroke-width="0.2" word-spacing="0.6">25 Feb 2020</text>
<rect x="1030" y="720" width="1" height="3" fill="#000"/>
<text x="1029" y="732" font-size="9.6" fill="#000" text-anchor="start" font-weight="normal" letter-spacing="-0.2" stroke="#000" stroke-width="0.2" word-spacing="0.6">5 Mar 2020</text>
<rect x="1094" y="720" width="1" height="3" fill="#000"/>
<text x="1093" y="732" font-size="9.6" fill="#000" text-anchor="start" font-weight="normal" letter-spacing="-0.2" stroke="#000" stroke-width="0.2" word-spacing="0.6">14 Mar 2020</text>
<rect x="1158" y="720" width="1" height="3" fill="#000"/>
<text x="1157" y="732" font-size="9.6" fill="#000" text-anchor="start" font-weight="normal" letter-spacing="-0.2" stroke="#000" stroke-width="0.2" word-spacing="0.6">24 Mar 2020</text>
<rect x="1222" y="720" width="1" height="3" fill="#000"/>
<text x="1221" y="732" font-size="9.6" fill="#000" text-anchor="start" font-weight="normal" letter-spacing="-0.2" stroke="#000" stroke-width="0.2" word-spacing="0.6">2 Apr 2020</text>
<rect x="1" y="742" width="1641" height="1" fill="#000"/>
<rect x="0" y="743" width="1642" height="18" fill="#f0f0f0"/>
<rect x="0" y="761" width="1642" height="1" fill="#e3e3e3"/>
<rect x="0" y="762" width="1642" height="2" fill="#ffffff"/>
<rect x="1" y="743" width="1" height="18" fill="#a0a0a0"/><rect x="2" y="743" width="1" height="18" fill="#696969"/><rect x="0" y="761" width="3" height="1" fill="#696969"/>
<text x="19" y="757" font-size="12" fill="#6d6d6d" text-anchor="start" font-weight="normal" >EURUSD,Daily</text>
<rect x="111" y="745" width="1" height="14" fill="#505050"/>
<text x="121" y="757" font-size="12" fill="#6d6d6d" text-anchor="start" font-weight="normal" >USDCHF,Daily</text>
<rect x="211" y="745" width="1" height="14" fill="#505050"/>
<text x="222" y="757" font-size="12" fill="#6d6d6d" text-anchor="start" font-weight="normal" >AUDUSD,Daily</text>
<text x="429" y="757" font-size="12" fill="#6d6d6d" text-anchor="start" font-weight="normal" >USDCNH,Daily</text>
<rect x="524" y="745" width="1" height="14" fill="#505050"/>
<text x="535" y="757" font-size="12" fill="#6d6d6d" text-anchor="start" font-weight="normal" >EURUSD,Daily</text>
<rect x="627" y="745" width="1" height="14" fill="#505050"/>
<text x="637" y="757" font-size="12" fill="#6d6d6d" text-anchor="start" font-weight="normal" >GBPUSD,M5</text>
<rect x="719" y="745" width="1" height="14" fill="#505050"/>
<text x="730" y="757" font-size="12" fill="#6d6d6d" text-anchor="start" font-weight="normal" >XAUUSD,H1</text>
<rect x="811" y="745" width="1" height="14" fill="#505050"/>
<text x="822" y="757" font-size="12" fill="#6d6d6d" text-anchor="start" font-weight="normal" >HK50,H1</text>
<rect x="884" y="745" width="1" height="14" fill="#505050"/>
<text x="894" y="757" font-size="12" fill="#6d6d6d" text-anchor="start" font-weight="normal" >UK100,H1</text>
<rect x="964" y="745" width="1" height="14" fill="#505050"/>
<text x="974" y="757" font-size="12" fill="#6d6d6d" text-anchor="start" font-weight="normal" >UK100,H1</text>
<rect x="1043" y="745" width="1" height="14" fill="#505050"/>
<text x="1054" y="757" font-size="12" fill="#6d6d6d" text-anchor="start" font-weight="normal" >GER30,H1</text>
<rect x="1123" y="745" width="1" height="14" fill="#505050"/>
<text x="1134" y="757" font-size="12" fill="#6d6d6d" text-anchor="start" font-weight="normal" >FRA40,H1</text>
<rect x="1199" y="745" width="1" height="14" fill="#505050"/>
<text x="1209" y="757" font-size="12" fill="#6d6d6d" text-anchor="start" font-weight="normal" >USOil,H1</text>
<rect x="1271" y="745" width="1" height="14" fill="#505050"/>
<text x="1281" y="757" font-size="12" fill="#6d6d6d" text-anchor="start" font-weight="normal" >USDJPY,H1</text>
<rect x="1355" y="745" width="1" height="14" fill="#505050"/>
<rect x="315" y="742" width="104" height="19" fill="#fff"/>
<rect x="315" y="742" width="1" height="19" fill="#000"/><rect x="418" y="742" width="1" height="19" fill="#000"/><rect x="315" y="760" width="104" height="1" fill="#000"/>
<text x="327" y="757" font-size="12" fill="#000" text-anchor="start" font-weight="normal" >USDCAD,Daily</text>
<path d="M1613.5,751 L1617,747.5 L1617,754.5 Z" fill="#999"/>
<path d="M1636.5,751 L1633,747.5 L1633,754.5 Z" fill="#999"/>
</svg>
</body></html>
